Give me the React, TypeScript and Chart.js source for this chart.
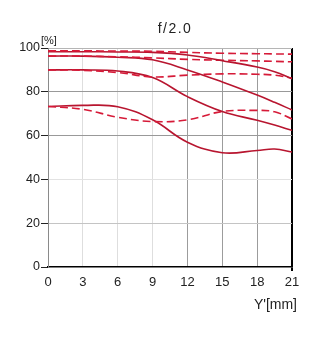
import React, { useEffect, useRef } from "react";
import { Chart, registerables } from "chart.js";

Chart.register(...registerables);

const TITLE = "f/2.0";
const Y_UNIT = "[%]";
const X_TITLE = "Y'[mm]";

const X_TICKS = [0, 3, 6, 9, 12, 15, 18, 21];
const Y_TICKS = [0, 20, 40, 60, 80, 100];

const IMG_H = [0, 3, 6, 9, 12, 15, 18, 19.5, 21];

const S1 = [98.3, 98.3, 98.2, 98.0, 96.8, 94.2, 91.3, 89.2, 86.0];
const D1 = [98.7, 98.7, 98.6, 98.5, 98.0, 97.6, 97.4, 97.3, 97.2];
const S2 = [96.3, 96.3, 95.8, 94.6, 90.0, 84.5, 78.5, 75.2, 71.7];
const D2 = [96.3, 96.3, 96.0, 95.5, 94.8, 94.4, 94.1, 93.9, 93.7];
const S3 = [90.0, 90.0, 89.5, 86.5, 77.8, 71.0, 67.0, 64.8, 62.4];
const D3 = [90.0, 89.8, 88.8, 86.8, 87.6, 88.2, 88.0, 87.6, 86.2];
const S4 = [73.3, 73.8, 73.2, 67.2, 57.0, 52.2, 53.2, 53.9, 52.5];
const D4 = [73.3, 72.0, 68.4, 66.4, 67.2, 71.0, 71.5, 70.9, 67.6];

const SOLID_COLOR = "#b8152f";
const DASH_COLOR = "#d61a38";

const FONT = '"Liberation Sans", Arial, Helvetica, sans-serif';

const textPlugin = {
  id: "extraTexts",
  afterDraw(chart: any) {
    const { ctx, chartArea } = chart;
    ctx.save();
    ctx.fillStyle = "#222";
    ctx.font = `14px ${FONT}`;
    (ctx as any).letterSpacing = "1.5px";
    ctx.textAlign = "center";
    ctx.textBaseline = "middle";
    ctx.fillText(TITLE, (chartArea.left + chartArea.right) / 2 + 5, chartArea.top - 19);
    (ctx as any).letterSpacing = "0px";
    ctx.font = `11px ${FONT}`;
    ctx.textAlign = "left";
    ctx.fillText(Y_UNIT, chartArea.left - 7, chartArea.top - 7);
    ctx.font = `14px ${FONT}`;
    ctx.textAlign = "right";
    ctx.fillText(X_TITLE, chartArea.right + 5, chartArea.bottom + 38);
    ctx.restore();
  },
};

function series(ys: number[], dashed: boolean) {
  return {
    data: IMG_H.map((x, i) => ({ x, y: ys[i] })),
    borderColor: dashed ? DASH_COLOR : SOLID_COLOR,
    borderWidth: 1.6,
    borderDash: dashed ? [8, 4] : [],
    pointRadius: 0,
    fill: false,
    tension: 0.4,
  };
}

export default function App() {
  const ref = useRef<HTMLCanvasElement>(null);

  useEffect(() => {
    if (!ref.current) return;
    const chart = new Chart(ref.current, {
      type: "line",
      data: {
        datasets: [
          series(D1, true),
          series(S1, false),
          series(D2, true),
          series(S2, false),
          series(D3, true),
          series(S3, false),
          series(D4, true),
          series(S4, false),
        ],
      },
      options: {
        animation: false,
        responsive: false,
        layout: { padding: { top: 48, left: 0, right: 42, bottom: 49 } },
        plugins: {
          legend: { display: false },
          tooltip: { enabled: false },
          title: { display: false },
        },
        scales: {
          x: {
            type: "linear",
            min: 0,
            max: 21,
            afterBuildTicks: (s: any) => {
              s.ticks = X_TICKS.map((v) => ({ value: v }));
            },
            afterFit: (s: any) => {
              s.height = 30;
              s.paddingLeft = 0;
              s.paddingRight = 0;
            },
            ticks: {
              color: "#222",
              font: { family: FONT, size: 13 },
              padding: 4,
              maxRotation: 0,
              autoSkip: false,
            },
            grid: {
              drawTicks: true,
              tickLength: 4,
              color: (c: any) => {
                const v = c.tick ? c.tick.value : 0;
                if (v === 21) return "#000";
                if (v === 0) return "rgba(0,0,0,0)";
                return v >= 12 ? "#9c9c9c" : "#dedede";
              },
              lineWidth: (c: any) => (c.tick && c.tick.value === 21 ? 2 : 1),
              tickColor: (c: any) =>
                c.tick && c.tick.value === 21 ? "#000" : "rgba(0,0,0,0)",
            },
            border: { display: true, color: "#000", width: 1.5 },
          },
          y: {
            min: 0,
            max: 100,
            afterBuildTicks: (s: any) => {
              s.ticks = Y_TICKS.map((v) => ({ value: v }));
            },
            afterFit: (s: any) => {
              s.width = 48;
              s.paddingTop = 0;
              s.paddingBottom = 0;
            },
            ticks: {
              color: "#222",
              font: { family: FONT, size: 12.5 },
              padding: 1,
            },
            grid: {
              drawTicks: true,
              tickLength: 7,
              tickColor: "#222",
              color: (c: any) => {
                const v = c.tick ? c.tick.value : 0;
                if (v === 80 || v === 60) return "#999";
                if (v === 100) return "#b5b5b5";
                if (v === 20) return "#c4c4c4";
                if (v === 0) return "rgba(0,0,0,0)";
                return "#e2e2e2";
              },
            },
            border: { display: true, color: "#8a8a8a", width: 1 },
          },
        },
      },
      plugins: [textPlugin],
    });
    return () => chart.destroy();
  }, []);

  return (
    <div
      style={{
        position: "fixed",
        left: 0,
        top: 0,
        width: 334,
        height: 346,
        background: "#fff",
      }}
    >
      <canvas ref={ref} width={334} height={346} style={{ width: 334, height: 346, display: "block" }} />
    </div>
  );
}
